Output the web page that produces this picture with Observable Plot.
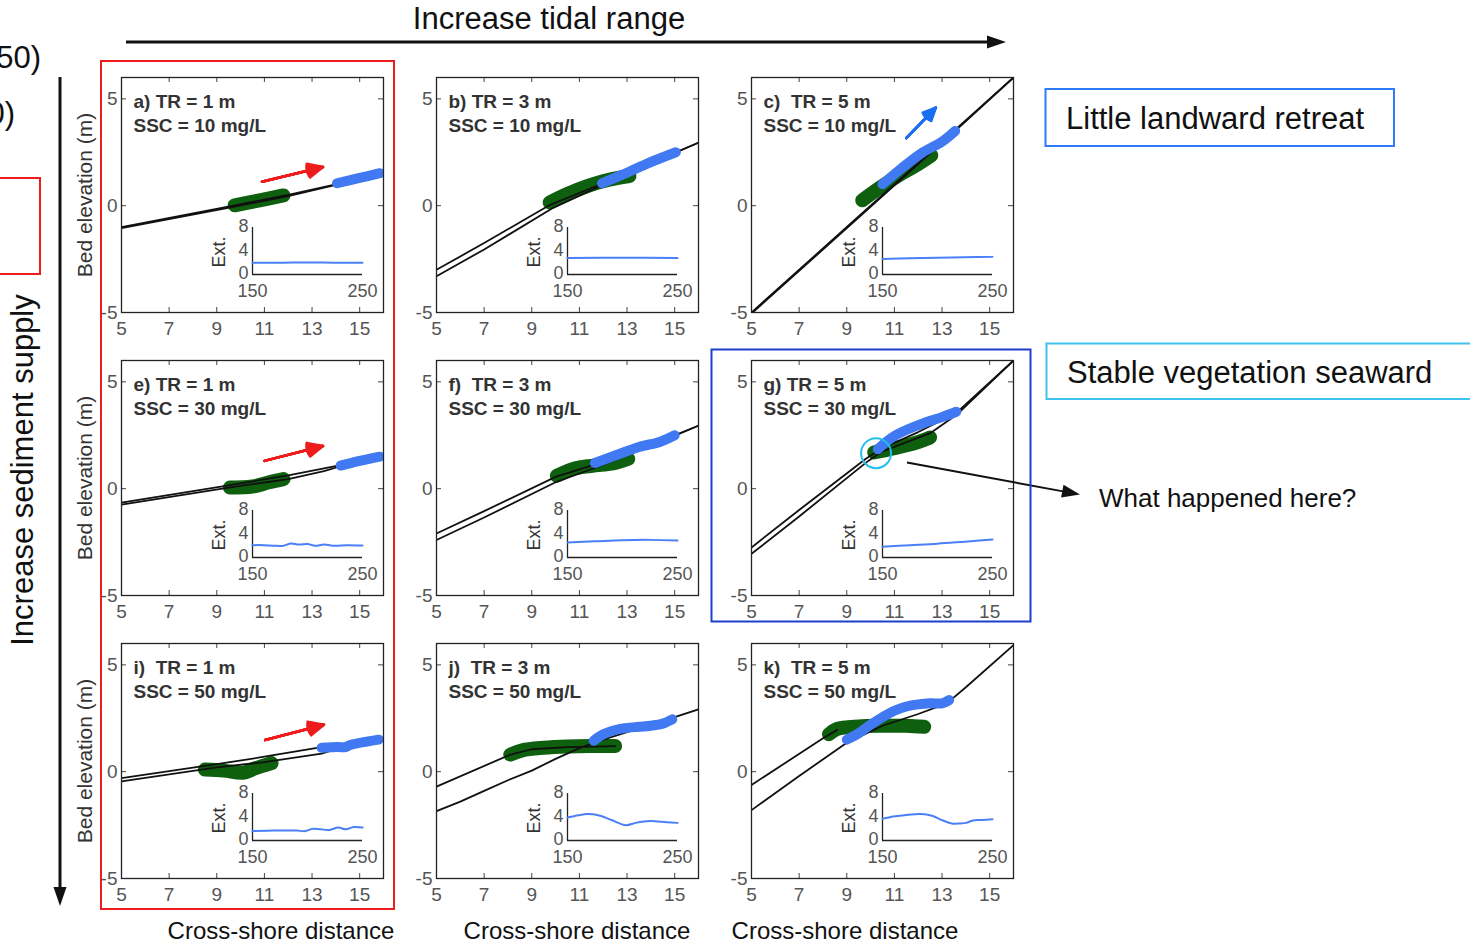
<!DOCTYPE html>
<html><head><meta charset="utf-8">
<script src="https://cdn.jsdelivr.net/npm/d3@7"></script>
<script src="https://cdn.jsdelivr.net/npm/@observablehq/plot@0.6"></script>
<style>
html,body{margin:0;padding:0;background:#fff;}
#page{position:relative;width:1470px;height:944px;overflow:hidden;font-family:"Liberation Sans",Arial,sans-serif;}
#page > svg{position:absolute;overflow:visible;}
</style></head><body><div id="page"></div>
<script>
// ---------- data ----------
const xTicks = [5, 7, 9, 11, 13, 15];
const yTicks = [-5, 0, 5];
const extTicksX = [150, 250];
const extTicksY = [0, 4, 8];
const xDomain = [5, 16];
const yDomain = [-5, 6];
const extXDomain = [150, 250];
const extYDomain = [0, 8];

const panelLetters = ["a", "b", "c", "e", "f", "g", "i", "j", "k"];
const tidalRanges = [1, 3, 5];          // m, by column
const sedimentConcs = [10, 30, 50];     // mg/L, by row
const titleGaps = [" ", " ", "\u00a0 ", " ", "\u00a0 ", " ", "\u00a0 ", "\u00a0 ", "\u00a0 "];

// bed profiles (two black lines), vegetation (green), vegetation (blue), inset "Ext." series
const a_prof1 = [[5,-1.0],[9.7,0.0],[12,0.5],[14,1.0],[16,1.5]];
const a_prof2 = [[5,-1.05],[9.7,-0.05],[12,0.45],[14,0.97],[16,1.47]];
const a_green = [[9.75,0.02],[10.8,0.25],[11.8,0.48]];
const a_blue  = [[14.05,1.05],[15,1.3],[15.85,1.52]];
const a_ext   = [[150,2.0],[175,2.0],[200,2.05],[225,2.0],[250,2.0]];

const b_prof1 = [[5,-3.0],[7,-1.75],[9.7,0.0],[12,1.05],[14,2.0],[16,2.95]];
const b_prof2 = [[5,-3.3],[7,-2.05],[9.9,-0.1],[12,0.98],[14,1.98],[16,2.95]];
const b_green = [[9.75,0.15],[10.5,0.55],[11.3,0.9],[12.2,1.2],[13.1,1.38]];
const b_blue  = [[11.95,1.05],[12.8,1.45],[13.8,1.95],[15.05,2.5]];
const b_ext   = [[150,2.8],[200,2.85],[250,2.8]];

const c_prof1 = [[5,-5.0],[9.6,-0.4],[11,1.0],[13.5,3.5],[16,6.0]];
const c_prof2 = [[5,-5.05],[9.6,-0.45],[11,0.95],[13.5,3.45],[16,6.0]];
const c_green = [[9.65,0.25],[10.4,0.85],[11.3,1.5],[12.0,1.95],[12.55,2.35]];
const c_blue  = [[10.5,1.0],[11.3,1.75],[12.2,2.5],[13,3.0],[13.55,3.5]];
const c_ext   = [[150,2.65],[175,2.75],[200,2.85],[225,2.95],[250,3.0]];

const e_prof1 = [[5,-0.65],[9.5,0.15],[12,0.62],[14.2,1.1],[16,1.5]];
const e_prof2 = [[5,-0.75],[9.5,0.05],[12,0.45],[13.5,0.82],[14.2,1.05],[16,1.47]];
const e_green = [[9.55,0.05],[10.5,0.1],[11.2,0.3],[11.8,0.45]];
const e_blue  = [[14.2,1.08],[15,1.3],[15.85,1.5]];
const e_ext   = [[150,2.1],[160,2.1],[170,2.0],[178,2.0],[185,2.4],[192,2.2],[200,2.3],[207,2.0],[215,2.2],[225,2.0],[235,2.1],[250,2.05]];

const f_prof1 = [[5,-2.1],[7,-1.05],[10,0.55],[12,1.25],[14,2.05],[16,2.95]];
const f_prof2 = [[5,-2.4],[7,-1.35],[10,0.3],[12,1.12],[14,2.0],[16,2.95]];
const f_green = [[10.05,0.6],[10.8,0.95],[11.8,1.1],[12.5,1.2],[13.05,1.4]];
const f_blue  = [[11.65,1.2],[12.5,1.55],[13.5,1.95],[14.4,2.2],[15.0,2.5]];
const f_ext   = [[150,2.55],[175,2.75],[200,2.95],[225,3.0],[250,2.9]];

const g_prof1 = [[5,-2.75],[7,-1.0],[9.8,1.4],[10.5,1.9],[12,2.65],[13.6,3.55],[16,6.0]];
const g_prof2 = [[5,-3.05],[7,-1.3],[9.9,1.3],[10.5,1.75],[12.5,2.6],[13.6,3.45],[16,6.0]];
const g_green = [[10.15,1.7],[11,1.9],[11.9,2.15],[12.5,2.4]];
const g_blue  = [[10.3,1.85],[11.05,2.5],[12.3,3.1],[13.0,3.35],[13.6,3.6]];
const g_ext   = [[150,1.85],[175,2.1],[200,2.35],[225,2.7],[250,3.05]];

const i_prof1 = [[5,-0.3],[9,0.35],[11,0.7],[13.4,1.15],[16,1.6]];
const i_prof2 = [[5,-0.45],[9,0.2],[11,0.45],[13.4,0.85],[14.2,1.12],[16,1.55]];
const i_green = [[8.5,0.1],[9.3,0.05],[10.1,-0.05],[10.6,0.15],[11.3,0.4]];
const i_blue  = [[13.4,1.12],[14.1,1.15],[14.4,1.15],[14.6,1.25],[15.8,1.5]];
const i_ext   = [[150,1.6],[170,1.7],[190,1.7],[198,1.6],[205,2.0],[212,1.9],[220,1.8],[228,2.2],[235,1.9],[242,2.3],[250,2.2]];

const j_prof1 = [[5,-0.7],[8.1,0.8],[9,1.05],[10.5,1.15],[12.5,1.2]];
const j_prof2 = [[5,-1.85],[6,-1.4],[7,-0.9],[8,-0.4],[9,0.05],[10,0.6],[11,1.1],[12,1.5],[13,1.85],[14,2.2],[15,2.55],[16,2.92]];
const j_green = [[8.1,0.8],[8.6,1.0],[9.5,1.12],[10.5,1.18],[11.5,1.2],[12.5,1.2]];
const j_blue  = [[11.6,1.45],[12,1.75],[12.5,1.95],[13,2.05],[13.5,2.1],[14,2.15],[14.5,2.25],[14.9,2.45]];
const j_ext   = [[150,3.9],[160,4.3],[168,4.5],[178,4.3],[190,3.5],[203,2.6],[212,3.0],[225,3.3],[240,3.1],[250,3.0]];

const k_prof1 = [[5,-0.62],[8.1,1.63],[8.6,1.95]];
const k_prof2 = [[5,-1.8],[7,-0.2],[9,1.35],[10.5,2.15],[12,2.7],[13.2,3.2],[14,3.95],[16,5.92]];
const k_green = [[8.25,1.75],[8.6,2.0],[9.5,2.12],[10.5,2.15],[11.5,2.15],[12.25,2.1]];
const k_blue  = [[9.0,1.5],[9.5,1.8],[10,2.2],[10.5,2.55],[11,2.85],[11.5,3.05],[12,3.15],[12.5,3.2],[13,3.2],[13.3,3.35]];
const k_ext   = [[150,3.7],[160,4.1],[170,4.3],[185,4.5],[195,4.2],[205,3.4],[213,2.9],[220,2.9],[226,3.0],[232,3.4],[240,3.5],[250,3.6]];

// annotation marks inside panels
const redArrows  = [
  {panel:"a", x1:10.9, y1:1.12, x2:13.46, y2:1.81},
  {panel:"e", x1:11.0, y1:1.3,  x2:13.46, y2:2.0},
  {panel:"i", x1:11.03,y1:1.48, x2:13.5,  y2:2.2}
];
const blueArrows = [{panel:"c", x1:11.5, y1:3.16, x2:12.74, y2:4.59}];
const circles    = [{panel:"g", x:10.23, y:1.66}];

// ---------- assemble ----------
const profiles1 = [a_prof1,b_prof1,c_prof1,e_prof1,f_prof1,g_prof1,i_prof1,j_prof1,k_prof1];
const profiles2 = [a_prof2,b_prof2,c_prof2,e_prof2,f_prof2,g_prof2,i_prof2,j_prof2,k_prof2];
const greens    = [a_green,b_green,c_green,e_green,f_green,g_green,i_green,j_green,k_green];
const blues     = [a_blue,b_blue,c_blue,e_blue,f_blue,g_blue,i_blue,j_blue,k_blue];
const exts      = [a_ext,b_ext,c_ext,e_ext,f_ext,g_ext,i_ext,j_ext,k_ext];

const GREEN = "#0e5f0e", BLUE = "#4079f2", BLUE_INSET = "#4a7ff5", RED = "#ee1c1c", ARROW_BLUE = "#1a6ff0";
const FONT = "'Liberation Sans', Arial, sans-serif";
const frameLefts = [121, 436, 751], frameTops = [77, 360, 643];
const FW = 262, FH = 235;
const page = document.getElementById("page");

function place(svg, left, top){
  svg.style.position = "absolute";
  svg.style.left = left + "px";
  svg.style.top = top + "px";
  page.appendChild(svg);
}

const headAngles = [50, 38, 26, 14, 4];
function filledArrows(data, color, hl){
  return headAngles.map(a => Plot.arrow(data, {x1:"x1", y1:"y1", x2:"x2", y2:"y2", stroke:color, strokeWidth:2.5, headLength:hl, headAngle:a}));
}

panelLetters.forEach((id, idx) => {
  const col = idx % 3, row = Math.floor(idx / 3);
  const title = `${id})${titleGaps[idx]}TR = ${tidalRanges[col]} m\nSSC = ${sedimentConcs[row]} mg/L`;
  const ML = 60, MT = 6, MR = 8, MB = 34;
  const thick = {strokeLinecap:"round", strokeLinejoin:"round", curve:"catmull-rom", clip:"frame"};
  const marks = [
    Plot.tickX(xTicks, {x:d=>d, insetTop:FH-5, stroke:"#444", strokeWidth:1}),
    Plot.tickX(xTicks, {x:d=>d, insetBottom:FH-5, stroke:"#444", strokeWidth:1}),
    Plot.tickY(yTicks, {y:d=>d, insetRight:FW-5, stroke:"#444", strokeWidth:1}),
    Plot.tickY(yTicks, {y:d=>d, insetLeft:FW-5, stroke:"#444", strokeWidth:1}),
    Plot.axisX(xTicks, {tickSize:0, tickPadding:9, fontSize:19, fill:"#555", label:null, tickFormat:d=>String(d)}),
    Plot.axisY(yTicks, {tickSize:0, tickPadding:4, fontSize:19, fill:"#555", label:null, tickFormat:d=>String(d)}),
    Plot.line(greens[idx], {stroke:GREEN, strokeWidth:14, ...thick}),
    Plot.line(profiles1[idx], {stroke:"#111", strokeWidth:1.8, clip:"frame"}),
    Plot.line(profiles2[idx], {stroke:"#111", strokeWidth:1.8, clip:"frame"}),
    Plot.line(blues[idx], {stroke:BLUE, strokeWidth:10, ...thick}),
    Plot.frame({stroke:"#222", strokeWidth:1.3}),
    Plot.text([title], {frameAnchor:"top-left", textAnchor:"start", lineAnchor:"top", dx:12, dy:13, lineHeight:1.28, fontSize:19, fontWeight:"bold", fill:"#333"})
  ];
  const ra = redArrows.filter(d => d.panel === id);
  if (ra.length) marks.push(...filledArrows(ra, RED, 10));
  const ba = blueArrows.filter(d => d.panel === id);
  if (ba.length) marks.push(...filledArrows(ba, ARROW_BLUE, 9));
  const ci = circles.filter(d => d.panel === id);
  if (ci.length) marks.push(Plot.dot(ci, {x:"x", y:"y", r:15, stroke:"#22c0f0", strokeWidth:2, fill:"none"}));
  if (col === 0) marks.push(Plot.text(["Bed elevation (m)"], {frameAnchor:"left", textAnchor:"middle", lineAnchor:"middle", dx:-36, dy:0, rotate:-90, fontSize:21, fill:"#333"}));

  const main = Plot.plot({
    width: FW + ML + MR, height: FH + MT + MB,
    marginLeft: ML, marginTop: MT, marginRight: MR, marginBottom: MB,
    x: {domain: xDomain}, y: {domain: yDomain},
    style: {background:"transparent", fontFamily: FONT, color:"#555", overflow:"visible"},
    marks
  });
  place(main, frameLefts[col] - ML, frameTops[row] - MT);

  // inset
  const IML = 52, IMT = 10, IMR = 26, IMB = 30, IW = 110, IH = 47;
  const ins = Plot.plot({
    width: IW + IML + IMR, height: IH + IMT + IMB,
    marginLeft: IML, marginTop: IMT, marginRight: IMR, marginBottom: IMB,
    x: {domain: extXDomain}, y: {domain: extYDomain},
    style: {background:"transparent", fontFamily: FONT, color:"#555", overflow:"visible"},
    marks: [
      Plot.ruleX([150], {stroke:"#222", strokeWidth:1.3}),
      Plot.ruleY([0], {stroke:"#222", strokeWidth:1.3}),
      Plot.line(exts[idx], {stroke:BLUE_INSET, strokeWidth:2, curve:"catmull-rom"}),
      Plot.axisX(extTicksX, {tickSize:0, tickPadding:10, fontSize:18, fill:"#555", label:null}),
      Plot.axisY(extTicksY, {tickSize:0, tickPadding:4, fontSize:18, fill:"#555", label:null, dy:-1}),
      Plot.text(["Ext."], {frameAnchor:"left", textAnchor:"middle", lineAnchor:"middle", dx:-33, dy:1, rotate:-90, fontSize:18, fill:"#333"})
    ]
  });
  place(ins, frameLefts[col] + 131 - IML, frameTops[row] + 197 - IH - IMT);
});

// ---------- page annotations ----------
const svg = d3.select(page).append("svg")
  .attr("width", 1470).attr("height", 944)
  .style("left", "0px").style("top", "0px")
  .style("font-family", FONT);

function arrowHead(x1, y1, x2, y2, len, half, color, sw){
  const a = Math.atan2(y2 - y1, x2 - x1);
  const bx = x2 - len * Math.cos(a), by = y2 - len * Math.sin(a);
  const px = -Math.sin(a) * half, py = Math.cos(a) * half;
  svg.append("line").attr("x1", x1).attr("y1", y1).attr("x2", bx + (x2-bx)*0.2).attr("y2", by + (y2-by)*0.2)
    .attr("stroke", color).attr("stroke-width", sw);
  svg.append("polygon").attr("points", `${x2},${y2} ${bx+px},${by+py} ${bx-px},${by-py}`).attr("fill", color);
}
arrowHead(126, 42, 1006, 42, 19, 6.5, "#111", 3);
arrowHead(60, 77, 60, 906, 19, 6.5, "#111", 3);
arrowHead(907, 462.5, 1080, 494.5, 18, 6.5, "#111", 2);

// boxes
svg.append("rect").attr("x", 101).attr("y", 61).attr("width", 293).attr("height", 848)
  .attr("fill", "none").attr("stroke", "#ee1c1c").attr("stroke-width", 2);
svg.append("rect").attr("x", -10).attr("y", 178).attr("width", 50).attr("height", 96)
  .attr("fill", "none").attr("stroke", "#ee1c1c").attr("stroke-width", 2);
svg.append("rect").attr("x", 711.5).attr("y", 349.5).attr("width", 319).attr("height", 272)
  .attr("fill", "none").attr("stroke", "#1c3fcc").attr("stroke-width", 2);
svg.append("rect").attr("x", 1045.5).attr("y", 89).attr("width", 348.5).attr("height", 57)
  .attr("fill", "none").attr("stroke", "#2f7bff").attr("stroke-width", 2);
svg.append("rect").attr("x", 1046.5).attr("y", 343.5).attr("width", 440).attr("height", 55.5)
  .attr("fill", "none").attr("stroke", "#3ec3ee").attr("stroke-width", 2);

function label(text, x, y, size, anchor, rotate){
  const t = svg.append("text").attr("font-size", size).attr("fill", "#111")
    .attr("text-anchor", anchor || "start").attr("dy", "0.35em").text(text);
  if (rotate) t.attr("transform", `translate(${x},${y}) rotate(${rotate})`);
  else t.attr("x", x).attr("y", y);
}
label("Increase tidal range", 549, 18, 31, "middle");
label("Increase sediment supply", 22, 470, 31, "middle", -90);
label("50)", 41, 57, 31, "end");
label("0)", 15, 113, 31, "end");
label("Little landward retreat", 1066, 118, 31, "start");
label("Stable vegetation seaward", 1067, 372, 31, "start");
label("What happened here?", 1099, 498, 26, "start");
const xLabelCenters = [281, 577, 845];
xLabelCenters.forEach(x => label("Cross-shore distance", x, 931, 24, "middle"));
</script></body></html>
